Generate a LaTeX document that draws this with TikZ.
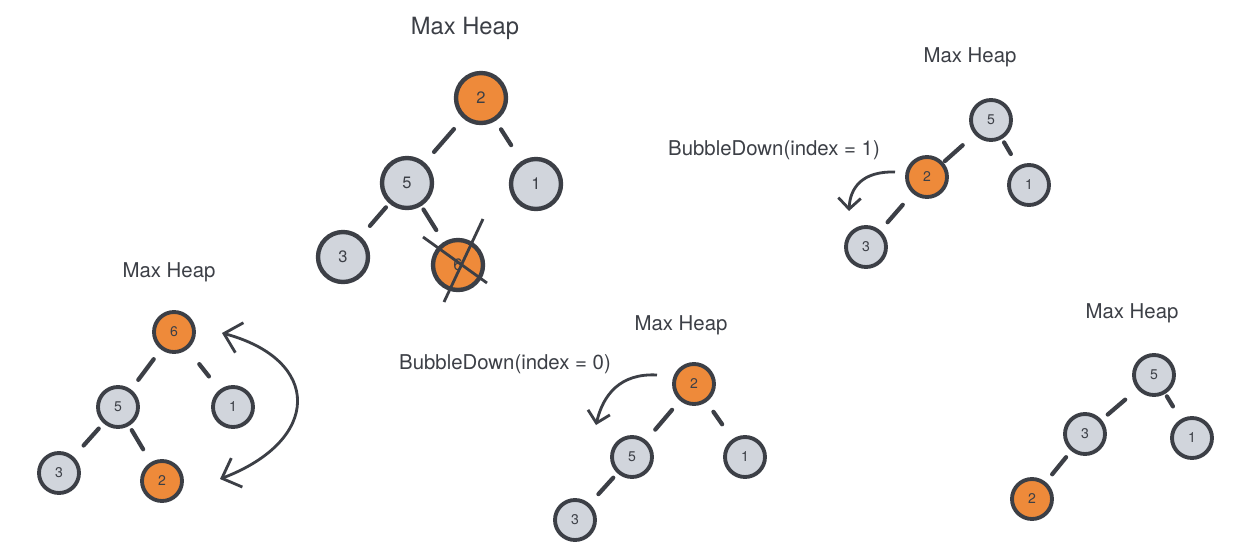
\documentclass[tikz,border=0pt]{standalone}
\usepackage{fontspec}
\setmainfont{TeX Gyre Heros}
\usetikzlibrary{arrows.meta}
\definecolor{heapgray}{HTML}{D1D5DC}
\definecolor{heaporange}{HTML}{EE8A3A}
\definecolor{inkgray}{HTML}{3C3F46}

\begin{document}
\begin{tikzpicture}[x=0.02cm,y=-0.02cm,
  big/.style={draw=inkgray,circle,line width=2.5pt,minimum size=1cm,inner sep=0pt,text=inkgray,font=\fontsize{9.4}{11}\selectfont},
  small/.style={draw=inkgray,circle,line width=2.2pt,minimum size=0.8cm,inner sep=0pt,text=inkgray,font=\fontsize{8}{9}\selectfont},
  keep/.style={fill=heapgray},
  moved/.style={fill=heaporange},
  hedge/.style 2 args={draw=inkgray,line width=2.4pt,line cap=round,shorten <=#1,shorten >=#2},
  title/.style={text=inkgray,font=\fontsize{11.6}{14}\selectfont},
  swaparrow/.style={draw=inkgray,line width=1.6pt}
]
\useasboundingbox[fill=white] (0,0) rectangle (1259,555);

% heap after removing the root
\node[title,font=\fontsize{13.5}{16}\selectfont] (t1) at (465,28) {Max Heap};
\node[big,moved] (a2) at (481,98) {2};
\node[big,keep] (a5) at (407,183) {5};
\node[big,keep] (a1) at (536,184) {1};
\node[big,keep] (a3) at (343,257) {3};
\node[big,moved] (a6) at (458,265) {6};

\path[hedge={0.28cm}{0.28cm}] (a2) -- (a5);
\path[hedge={0.2cm}{0.38cm}] (a2) -- (a1);
\path[hedge={0.1cm}{0.28cm}] (a5) -- (a3);
\path[hedge={0.08cm}{0.28cm}] (a5) -- (a6);

\path[draw=inkgray,line width=1.6pt] ([shift={(-35,-28)}]a6.center) -- ([shift={(29,18)}]a6.center);
\path[draw=inkgray,line width=1.6pt] ([shift={(25,-46)}]a6.center) -- ([shift={(-14,37)}]a6.center);

% heap before the swap
\node[title] (t2) at (169,272) {Max Heap};
\node[small,moved] (b6) at (174,332) {6};
\node[small,keep] (b5) at (118,407) {5};
\node[small,keep] (b1) at (233,407) {1};
\node[small,keep] (b3) at (59,473) {3};
\node[small,moved] (b2) at (162,481) {2};

\path[hedge={0.24cm}{0.24cm}] (b6) -- (b5);
\path[hedge={0.38cm}{0.34cm}] (b6) -- (b1);
\path[hedge={0.14cm}{0.3cm}] (b5) -- (b3);
\path[hedge={0.1cm}{0.3cm}] (b5) -- (b2);

\coordinate (swaptop) at (222,333);
\coordinate (swapbot) at (220,479);
\path[swaparrow,{Straight Barb[length=0.32cm,width=0.62cm]}-{Straight Barb[length=0.32cm,width=0.62cm]}]
  (swaptop) .. controls (322,360) and (322,440) .. (swapbot);

% bubble down from the root
\node[title] (t3) at (681,325) {Max Heap};
\node[title] (bd0) at (505,364) {BubbleDown(index = 0)};
\node[small,moved] (c2) at (694,384) {2};
\node[small,keep] (c5) at (632,457) {5};
\node[small,keep] (c1) at (745,457) {1};
\node[small,keep] (c3) at (575,520) {3};

\path[hedge={0.24cm}{0.28cm}] (c2) -- (c5);
\path[hedge={0.24cm}{0.36cm}] (c2) -- (c1);
\path[hedge={0.12cm}{0.26cm}] (c5) -- (c3);

\coordinate (bd0from) at (657,375);
\coordinate (bd0to) at (596,425);
\path[swaparrow,-{Straight Barb[length=0.22cm,width=0.45cm]}]
  (bd0from) .. controls (620,373) and (603,395) .. (bd0to);

% bubble down from index 1
\node[title] (t4) at (970,57) {Max Heap};
\node[title] (bd1) at (774,150) {BubbleDown(index = 1)};
\node[small,keep] (d5) at (991,120) {5};
\node[small,moved] (d2) at (927,177) {2};
\node[small,keep] (d1) at (1029,185) {1};
\node[small,keep] (d3) at (866,247) {3};

\path[hedge={0.32cm}{0.04cm}] (d5) -- (d2);
\path[hedge={0.08cm}{0.28cm}] (d5) -- (d1);
\path[hedge={0.3cm}{0.22cm}] (d2) -- (d3);

\coordinate (bd1from) at (895,172);
\coordinate (bd1to) at (849,211);
\path[swaparrow,-{Straight Barb[length=0.22cm,width=0.45cm]}]
  (bd1from) .. controls (862,171) and (850,188) .. (bd1to);

% final heap
\node[title] (t5) at (1132,313) {Max Heap};
\node[small,keep] (e5) at (1154,375) {5};
\node[small,keep] (e3) at (1085,434) {3};
\node[small,keep] (e1) at (1192,438) {1};
\node[small,moved] (e2) at (1032,499) {2};

\path[hedge={0.32cm}{0.16cm}] (e5) -- (e3);
\path[hedge={0.06cm}{0.3cm}] (e5) -- (e1);
\path[hedge={0.16cm}{0.2cm}] (e3) -- (e2);
\end{tikzpicture}
\end{document}
